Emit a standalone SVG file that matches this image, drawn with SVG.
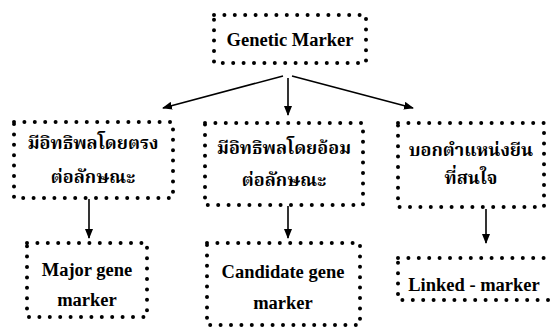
<svg xmlns="http://www.w3.org/2000/svg" width="551" height="328" viewBox="0 0 551 328">
<defs>
<style>
.box{fill:none;stroke:#000;stroke-width:4;stroke-linecap:round;stroke-dasharray:0 10.4}
.lat{font-family:"Liberation Serif","Times New Roman",serif;font-weight:bold;font-size:18.5px;fill:#000;text-anchor:middle}
.th{font-family:"Noto Serif Thai","Norasi","Noto Sans Thai","Liberation Serif",serif;font-weight:bold;font-size:18px;fill:#000;text-anchor:middle}
.con{stroke:#000;stroke-width:1.6;fill:none}
</style>
<marker id="ah" markerWidth="10" markerHeight="8" refX="9" refY="4" orient="auto" markerUnits="userSpaceOnUse">
<path d="M0,0 L10,4 L0,8 Z" fill="#000"/>
</marker>
</defs>
<rect width="551" height="328" fill="#fff"/>
<g id="connectors">
<line class="con" x1="283" y1="76" x2="163" y2="108" marker-end="url(#ah)"/>
<line class="con" x1="288" y1="78" x2="288" y2="115" marker-end="url(#ah)"/>
<line class="con" x1="292" y1="76" x2="413" y2="108" marker-end="url(#ah)"/>
<line class="con" x1="89" y1="199" x2="89" y2="238" marker-end="url(#ah)"/>
<line class="con" x1="288" y1="206" x2="288" y2="238" marker-end="url(#ah)"/>
<line class="con" x1="486" y1="209" x2="486" y2="243" marker-end="url(#ah)"/>
</g>
<g id="genetic-marker">
<rect class="box" x="214" y="15" width="152" height="48"/>
<text class="lat" x="290" y="46">Genetic Marker</text>
</g>
<g id="direct">
<rect class="box" x="14" y="122" width="159" height="76"/>
<text class="th" x="93" y="149">มีอิทธิพลโดยตรง</text>
<text class="th" x="93" y="183">ต่อลักษณะ</text>
</g>
<g id="indirect">
<rect class="box" x="205" y="123" width="158" height="82"/>
<text class="th" x="284" y="154">มีอิทธิพลโดยอ้อม</text>
<text class="th" x="284" y="186">ต่อลักษณะ</text>
</g>
<g id="position">
<rect class="box" x="398" y="123" width="146" height="84"/>
<text class="th" x="471" y="156">บอกตำแหน่งยีน</text>
<text class="th" x="471" y="184">ที่สนใจ</text>
</g>
<g id="major">
<rect class="box" x="27" y="243" width="120" height="74"/>
<text class="lat" x="87" y="276">Major gene</text>
<text class="lat" x="87" y="306">marker</text>
</g>
<g id="candidate">
<rect class="box" x="207" y="243" width="153" height="82"/>
<text class="lat" x="283" y="278">Candidate gene</text>
<text class="lat" x="283" y="309">marker</text>
</g>
<g id="linked">
<rect class="box" x="398" y="258" width="158" height="42"/>
<text class="lat" x="474" y="291">Linked - marker</text>
</g>
</svg>
